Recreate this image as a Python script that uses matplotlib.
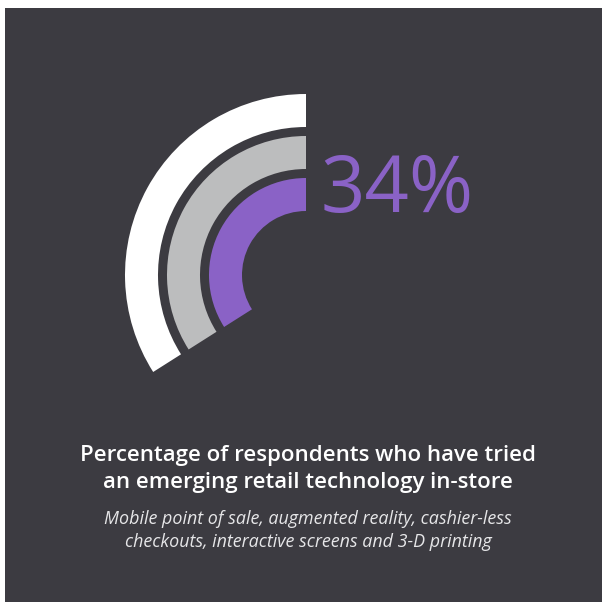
import matplotlib
matplotlib.use("Agg")
from matplotlib import pyplot as plt
from matplotlib.patches import Rectangle, Wedge

# Ring data: outer to inner, share of respondents (percent)
ring_names = ["outer", "middle", "inner"]
ring_values = [34, 34, 34]
ring_colors = ["#ffffff", "#bcbdbe", "#8a62c6"]

headline_value = 34
title_lines = ["Percentage of respondents who have tried",
               "an emerging retail technology in-store"]
subtitle_lines = ["Mobile point of sale, augmented reality, cashier-less",
                  "checkouts, interactive screens and 3-D printing"]

BG = "#3c3b41"
W, H = 602, 602
FONT = ["Open Sans", "Noto Sans", "DejaVu Sans"]

fig = plt.figure(figsize=(W / 100, H / 100), dpi=100, facecolor="white")
ax = fig.add_axes([0, 0, 1, 1])
ax.set_xlim(0, W)
ax.set_ylim(0, H)
ax.set_aspect("equal")
ax.axis("off")

# dark panel, leaving a thin white margin top and left
ax.add_patch(Rectangle((5, 0), W - 5, H - 8, facecolor=BG, edgecolor="none"))

# concentric arcs starting at 12 o'clock and running counter-clockwise
cx, cy = 306, H - 275
outer_r, ring_w, gap = 181, 33, 9
for i, (name, val, col) in enumerate(zip(ring_names, ring_values, ring_colors)):
    r = outer_r - i * (ring_w + gap)
    sweep = val / 100 * 360
    ax.add_patch(Wedge((cx, cy), r, 90, 90 + sweep, width=ring_w,
                       facecolor=col, edgecolor="none", antialiased=True))

ax.text(321, H - 212, f"{headline_value}%", color=ring_colors[-1],
        fontsize=56, fontweight="normal", family=FONT,
        ha="left", va="baseline")

for k, line in enumerate(title_lines):
    ax.text(308, H - 461 - k * 27, line, color="white", fontsize=16,
            fontweight="semibold", family=FONT, ha="center", va="baseline")

for k, line in enumerate(subtitle_lines):
    ax.text(308, H - 524 - k * 23, line, color="#e6e6e8", fontsize=12.9,
            style="italic", family=FONT, ha="center", va="baseline")

fig.savefig("out.png", dpi=100, facecolor=fig.get_facecolor())
